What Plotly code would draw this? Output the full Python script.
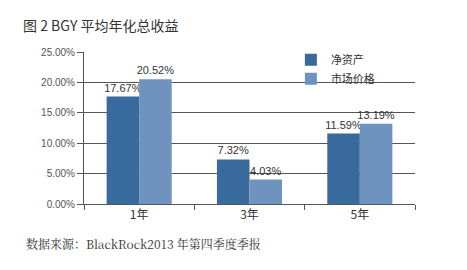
import plotly.graph_objects as go

categories = ["1年", "3年", "5年"]
nav = [17.67, 7.32, 11.59]
market = [20.52, 4.03, 13.19]
series_names = ["净资产", "市场价格"]
title_text = "图 2 BGY 平均年化总收益"
source_text = "数据来源：BlackRock2013 年第四季度季报"

dark = "#386a9e"
light = "#6f93bf"

fig = go.Figure()
for vals, name, col in [(nav, series_names[0], dark), (market, series_names[1], light)]:
    fig.add_trace(go.Bar(x=categories, y=vals, name=name, marker_color=col,
                         marker_line_width=0,
                         text=[f"{v:.2f}%" for v in vals], textposition="outside",
                         constraintext="none",
                         textfont=dict(size=11, color="#333", family="Liberation Sans, Arial"),
                         cliponaxis=False))

fig.update_layout(
    width=467, height=270,
    margin=dict(l=84, r=52, t=52, b=66),
    paper_bgcolor="white", plot_bgcolor="white",
    barmode="group", bargap=0.41, bargroupgap=0,
    font=dict(family="Liberation Sans, Arial", color="#333"),
    showlegend=True,
    legend=dict(x=0.625, y=1.045, xanchor="left", yanchor="top",
                bgcolor="rgba(0,0,0,0)", font=dict(size=11, family="Noto Sans CJK SC", color="#333"),
                itemsizing="constant", tracegroupgap=0),
    annotations=[
        dict(text=title_text, xref="paper", yref="paper", x=-0.19, y=1.178,
             xanchor="left", yanchor="middle", showarrow=False,
             font=dict(size=14, family="Noto Sans CJK SC", color="#333")),
        dict(text=source_text, xref="paper", yref="paper", x=-0.18, y=-0.26,
             xanchor="left", yanchor="middle", showarrow=False,
             font=dict(size=12, family="Noto Serif CJK SC, Noto Sans CJK SC", color="#333")),
    ],
)
fig.update_yaxes(range=[0, 25], dtick=5, ticksuffix="%", tickformat=".2f",
                 showgrid=True, gridcolor="#555", gridwidth=1,
                 showline=True, linecolor="#555", linewidth=1,
                 ticks="outside", ticklen=6, tickcolor="#555",
                 tickfont=dict(size=10, color="#555"), zeroline=False)
fig.update_xaxes(showline=True, linecolor="#555", linewidth=1,
                 ticks="outside", ticklen=5, tickcolor="#555", tickson="boundaries",
                 tickfont=dict(size=12, color="#333", family="Noto Sans CJK SC"))

fig.write_html("out.html")
